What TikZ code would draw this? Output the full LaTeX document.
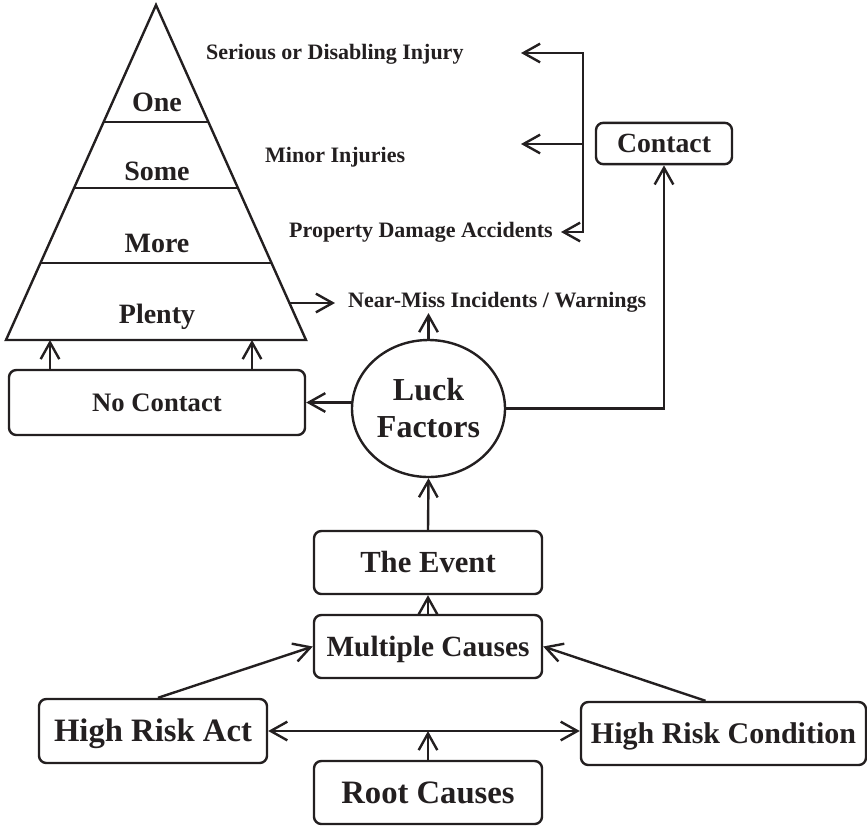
\documentclass[tikz,border=0pt]{standalone}
\usepackage{fontspec}
\setmainfont{Liberation Serif}
\usetikzlibrary{arrows.meta,shapes.geometric,calc}
\definecolor{ink}{RGB}{35,31,32}
\newcommand{\fsz}[1]{\fontsize{#1}{#1}\selectfont\bfseries}
\begin{document}
\begin{tikzpicture}[x=0.75pt,y=-0.75pt,
  line width=1.8pt, draw=ink, text=ink,
  barb/.style={Straight Barb[length=12.5pt,width=14pt,line width=1.8pt]},
  arr/.style={-{Straight Barb[length=12.5pt,width=14pt,line width=1.8pt]}},
  dblarr/.style={{Straight Barb[length=12.5pt,width=14pt,line width=1.8pt]}-{Straight Barb[length=12.5pt,width=14pt,line width=1.8pt]}},
  box/.style={draw, rounded corners=5.5pt, inner sep=0pt, text depth=0pt},
  tier/.style={anchor=base, inner sep=0pt, font=\fsz{21pt}},
  side/.style={anchor=base west, inner sep=0pt, font=\fsz{16.5pt}}]
\useasboundingbox (0,0) rectangle (867,826);

% pyramid of outcomes
\coordinate (apex) at (156,5);
\coordinate (bl) at (6,340);
\coordinate (br) at (306,340);
\draw[line join=miter] (apex) -- (bl) -- (br) -- cycle;
\draw ($(apex)!0.349!(bl)$) -- ($(apex)!0.349!(br)$);
\draw ($(apex)!0.546!(bl)$) -- ($(apex)!0.546!(br)$);
\draw ($(apex)!0.770!(bl)$) -- ($(apex)!0.770!(br)$);
\node[tier] (one) at (157,111) {One};
\node[tier] (some) at (157,180) {Some};
\node[tier] (more) at (157,252) {More};
\node[tier] (plenty) at (157,323) {Plenty};

% outcome labels
\node[side] (serious) at (205,59) {Serious or Disabling Injury};
\node[side] (minor) at (264,162) {Minor Injuries};
\node[side] (property) at (288,237) {Property Damage Accidents};
\node[side] (nearmiss) at (347,307) {Near-Miss Incidents / Warnings};

% boxes
\node[box, minimum width=102pt, minimum height=31pt, text height=13.7pt, font=\fsz{20.8pt}] (contact) at (664,143.5) {Contact};
\node[box, minimum width=222pt, minimum height=48.75pt, text height=13.2pt, font=\fsz{20pt}] (nocontact) at (157,402.5) {No Contact};
\node[draw, ellipse, minimum width=114.75pt, minimum height=102.75pt, inner sep=0pt, align=center, font=\fontsize{24pt}{27.75pt}\selectfont\bfseries] (luck) at (428.5,408.5) {Luck\\Factors};
\node[box, minimum width=171pt, minimum height=47.25pt, text height=15.2pt, font=\fsz{23pt}] (event) at (428,562.5) {The Event};
\node[box, minimum width=171pt, minimum height=47.25pt, text height=14.5pt, font=\fsz{22pt}] (multiple) at (428,646.5) {Multiple Causes};
\node[box, minimum width=171pt, minimum height=48pt, text height=16.2pt, font=\fsz{24.5pt}] (act) at (153,731) {High Risk Act};
\node[box, minimum width=213.75pt, minimum height=47.25pt, text height=14.9pt, font=\fsz{22.5pt}] (condition) at (723.5,733.5) {High Risk Condition};
\node[box, minimum width=171pt, minimum height=47.25pt, text height=16.2pt, font=\fsz{24.5pt}] (root) at (428,792.5) {Root Causes};

% bracket from contact outcomes
\coordinate (t1) at (521,53);
\coordinate (c1) at (583,53);
\coordinate (c2) at (583,232);
\coordinate (t3) at (561,232);
\coordinate (cm) at (583,144);
\coordinate (t2) at (521,144);
\draw[dblarr, line join=miter] (t1) -- (c1) -- (c2) -- (t3);
\draw[arr] (cm) -- (t2);

% near-miss links
\coordinate (pm) at (289,303);
\coordinate (nmtip) at (335,303);
\draw[arr] (pm) -- (nmtip);
\draw[arr] (luck.north) -- (luck.north |- nearmiss.south);

% no contact links
\coordinate (b1) at (50,340);
\coordinate (b2) at (252,340);
\draw[arr] (nocontact.north -| b1) -- (b1);
\draw[arr] (nocontact.north -| b2) -- (b2);
\draw[arr] (luck.west |- nocontact.east) -- (nocontact.east);
\draw[arr, line join=miter] (luck.east) -| (contact.south);

% causal chain
\draw[arr] (event.north) -- (luck.south);
\draw[arr] (multiple.north) -- (event.south);
\draw[arr] ([xshift=3.75pt]act.north) -- (multiple.west);
\draw[arr] ([xshift=-13.5pt]condition.north) -- (multiple.east);
\draw[dblarr] (act.east) -- (condition.west |- act.east);
\draw[arr] (root.north) -- (root.north |- act.east);
\end{tikzpicture}
\end{document}
